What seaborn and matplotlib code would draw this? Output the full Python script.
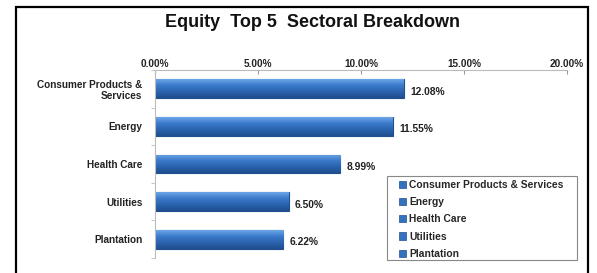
import numpy as np
import pandas as pd
import matplotlib.pyplot as plt
import seaborn as sns
from matplotlib.patches import Rectangle
from matplotlib.ticker import FuncFormatter, FixedLocator
from matplotlib.colors import LinearSegmentedColormap

sectors = ['Consumer Products &\nServices', 'Energy', 'Health Care', 'Utilities', 'Plantation']
legend_names = ['Consumer Products & Services', 'Energy', 'Health Care', 'Utilities', 'Plantation']
weights = [12.08, 11.55, 8.99, 6.50, 6.22]

sns.set_style('white')
plt.rcParams['font.family'] = ['Liberation Sans', 'DejaVu Sans']

df = pd.DataFrame({'Sector': sectors, 'Weight': weights})
bar_color = '#3472c0'

fig = plt.figure(figsize=(5.97, 2.73), dpi=100)
ax = fig.add_axes([0.2596, 0.055, 0.69, 0.6886])

sns.barplot(data=df, x='Weight', y='Sector', hue='Sector', palette=[bar_color] * 5,
            width=0.5, dodge=False, legend=False, ax=ax,
            edgecolor='#1f4f8f', linewidth=0.8)

# gradient fill like the Excel bars
grad = LinearSegmentedColormap.from_list('bar', ['#6ba4e6', '#3b7bcb', '#2a62ad', '#1f4f8f'])
for p in ax.patches:
    x0, y0 = p.get_x(), p.get_y()
    w, h = p.get_width(), p.get_height()
    im = ax.imshow(np.linspace(0, 1, 50).reshape(-1, 1), cmap=grad, aspect='auto',
                   extent=(x0, x0 + w, y0 + h, y0), zorder=p.get_zorder() + 0.1)
    im.set_clip_path(p)

for i, v in enumerate(weights):
    ax.text(v + 0.3, i + 0.08, f'{v:.2f}%', va='center', ha='left',
            fontsize=7.4, fontweight='bold', color='#222222')

ax.set_xlim(0, 20)
ax.set_ylim(4.5, -0.5)
ax.xaxis.tick_top()
ax.set_xticks([0, 5, 10, 15, 20])
ax.xaxis.set_major_formatter(FuncFormatter(lambda x, p: f'{x:.2f}%'))
ax.tick_params(axis='x', length=3, direction='in', labelsize=7.2, pad=1, color='#999999')
ax.tick_params(axis='y', length=0, labelsize=7.2, pad=9)
ax.yaxis.set_minor_locator(FixedLocator([-0.5, 0.5, 1.5, 2.5, 3.5, 4.5]))
ax.tick_params(axis='y', which='minor', length=3, direction='out', color='#bbbbbb', left=True)
for lbl in ax.get_xticklabels() + ax.get_yticklabels():
    lbl.set_fontweight('bold')
    lbl.set_color('#222222')
ax.set_xlabel('')
ax.set_ylabel('')
for side in ['right', 'bottom']:
    ax.spines[side].set_visible(False)
for side in ['left', 'top']:
    ax.spines[side].set_color('#bbbbbb')
    ax.spines[side].set_linewidth(0.8)

# legend box drawn separately so its padding matches the original
fig.patches.append(Rectangle((387 / 597, 1 - 260 / 273), 190 / 597, 84 / 273,
                             transform=fig.transFigure, facecolor='white',
                             edgecolor='#888888', linewidth=0.8, zorder=5))
handles = [Rectangle((0, 0), 1, 1, facecolor=bar_color, edgecolor='#1f4f8f', linewidth=0.5) for _ in legend_names]
leg = fig.legend(handles, legend_names, loc='upper left', bbox_to_anchor=(399 / 597, 1 - 180 / 273),
                 prop={'weight': 'bold', 'size': 7.4}, handlelength=0.7, handleheight=0.7,
                 handletextpad=0.3, labelspacing=0.7, borderpad=0, borderaxespad=0,
                 frameon=False)
leg.set_zorder(6)

fig.text(0.524, 0.919, 'Equity  Top 5  Sectoral Breakdown', ha='center', va='center',
         fontsize=13, fontweight='bold', color='#111111')

fig.patches.append(Rectangle((16 / 597, -0.05), (588 - 16) / 597, 1.05 - 7 / 273,
                             transform=fig.transFigure, fill=False, edgecolor='black',
                             linewidth=1.6))

fig.savefig('out.png', dpi=100)
